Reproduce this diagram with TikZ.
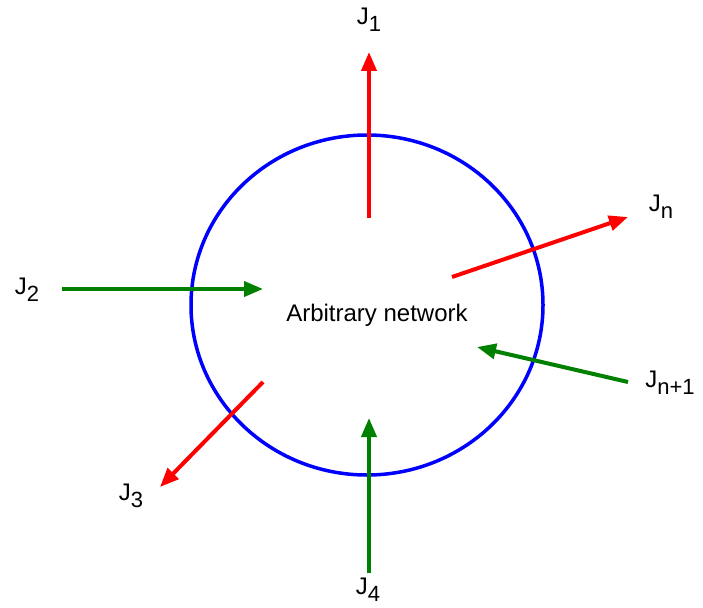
\documentclass[tikz,border=0pt]{standalone}
\usepackage{fontspec}
\setmainfont{Liberation Sans}
\usetikzlibrary{arrows.meta, shapes.geometric}
\newcommand{\jsub}[1]{J\raisebox{-7pt}{\fontsize{22}{24}\selectfont #1}}
\begin{document}
\begin{tikzpicture}[x=1pt, y=-1pt]

% Set the overall frame of the picture
\useasboundingbox (0,0) rectangle (703,607);

% Define styles for the network, the currents and their labels
\tikzstyle{network} = [draw=blue, line width=3.5pt]
\tikzstyle{outflow} = [draw=red, line width=4pt, -{Triangle[length=19pt, width=15pt]}]
\tikzstyle{inflow} = [draw=green!50!black, line width=4pt, -{Triangle[length=19pt, width=15pt]}]
\tikzstyle{current} = [font=\fontsize{24}{28}\selectfont, inner sep=0pt]

% The network itself
\node[network, ellipse, minimum width=352pt, minimum height=340pt, inner sep=0pt] (net) at (367,305) {};
\node[font=\fontsize{24}{28}\selectfont] (name) at (377,315) {Arbitrary network};

% Labels of the currents
\node[current] (j1) at (369,20) {\jsub{1}};
\node[current] (j2) at (27,290) {\jsub{2}};
\node[current] (j3) at (131,496) {\jsub{3}};
\node[current] (j4) at (368,590) {\jsub{4}};
\node[current] (jn) at (661,207) {\jsub{n}};
\node[current] (jm) at (670,383) {\jsub{n+1}};

% End points of the currents
\coordinate (j1s) at (369,218);  \coordinate (j1e) at (369,52);
\coordinate (j2s) at (62,289);   \coordinate (j2e) at (263,289);
\coordinate (j3s) at (263,382);  \coordinate (j3e) at (160,487);
\coordinate (j4s) at (369,573);  \coordinate (j4e) at (369,418);
\coordinate (jns) at (452,277);  \coordinate (jne) at (628,217);
\coordinate (jms) at (628,382);  \coordinate (jme) at (477,347);

% Currents leaving and entering the network
\draw[outflow] (j1s) -- (j1e);
\draw[outflow] (j3s) -- (j3e);
\draw[outflow] (jns) -- (jne);
\draw[inflow] (j2s) -- (j2e);
\draw[inflow] (j4s) -- (j4e);
\draw[inflow] (jms) -- (jme);
\end{tikzpicture}
\end{document}
